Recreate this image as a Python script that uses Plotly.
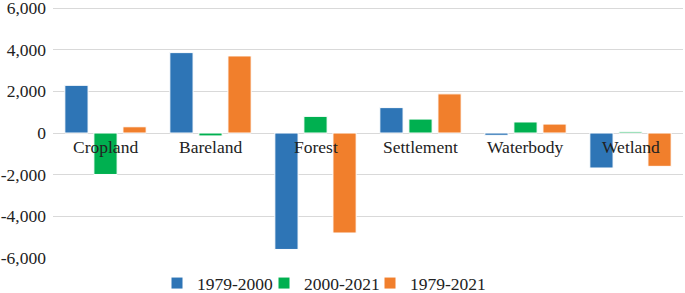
import plotly.graph_objects as go

categories = ["Cropland", "Bareland", "Forest", "Settlement", "Waterbody", "Wetland"]
series_names = ["1979-2000", "2000-2021", "1979-2021"]
v_1979_2000 = [2290, 3860, -5590, 1220, -110, -1680]
v_2000_2021 = [-1990, -140, 800, 670, 530, 60]
v_1979_2021 = [300, 3700, -4800, 1880, 430, -1600]
y_ticks = [-6000, -4000, -2000, 0, 2000, 4000, 6000]
y_tick_labels = [f"{v:,}" for v in y_ticks]

colors = ["#2E75B6", "#00B050", "#F17F2C"]
font_family = "Liberation Serif"
text_color = "#222222"
legend_ids = ["legend", "legend2", "legend3"]
legend_left_px = [157, 264, 370]

fig = go.Figure()
for name, vals, col, lg in zip(series_names, [v_1979_2000, v_2000_2021, v_1979_2021],
                               colors, legend_ids):
    fig.add_trace(go.Bar(
        x=categories, y=vals, name=name, legend=lg,
        marker=dict(color=col, line=dict(color="white", width=1)),
    ))

for c in categories:
    fig.add_annotation(x=c, y=0, xref="x", yref="y", text=c, showarrow=False,
                       yanchor="top", yshift=-2,
                       font=dict(family=font_family, size=17.5, color=text_color))

W, H = 685, 293
legend_common = dict(orientation="h", xref="container", yref="paper",
                     xanchor="left", y=-0.172, yanchor="bottom",
                     font=dict(family=font_family, size=17.5, color=text_color),
                     itemwidth=30, bgcolor="rgba(0,0,0,0)", borderwidth=0)
legends = {}
for lg, px in zip(legend_ids, legend_left_px):
    legends[lg] = dict(legend_common, x=px / W)

fig.update_layout(
    template="none",
    width=W, height=H,
    margin=dict(l=53, r=2, t=7, b=35, autoexpand=False),
    paper_bgcolor="white", plot_bgcolor="white",
    barmode="group", bargap=0.17, bargroupgap=0.2,
    font=dict(family=font_family, size=17.5, color=text_color),
    showlegend=True,
    **legends,
)
fig.update_xaxes(showticklabels=False, showgrid=False, showline=False, zeroline=False,
                 automargin=False, ticks="")
fig.update_yaxes(range=[-6000, 6050], tickvals=y_ticks, ticktext=y_tick_labels,
                 showgrid=True, gridcolor="#D9D9D9", gridwidth=1,
                 zeroline=True, zerolinecolor="#D9D9D9", zerolinewidth=1,
                 showline=False, ticks="", ticklabelstandoff=6,
                 ticklabeloverflow="allow", automargin=False,
                 tickfont=dict(family=font_family, size=17.5, color=text_color))

fig.write_html("out.html", config={"displayModeBar": False},
               post_script="document.body.style.margin='0';")
